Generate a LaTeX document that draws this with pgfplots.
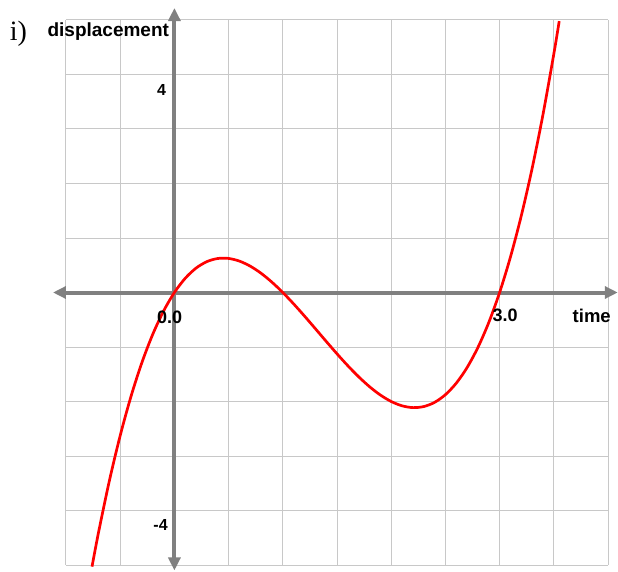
\documentclass[border=0pt]{standalone}
\usepackage{pgfplots}
\pgfplotsset{compat=1.18}
\usepackage{fontspec}
\setmainfont{Liberation Sans}
\newfontfamily\serif{Liberation Serif}
\usetikzlibrary{arrows.meta}
\definecolor{axgray}{HTML}{808080}
\definecolor{gridgray}{HTML}{C8C8C8}
\begin{document}
\begin{tikzpicture}
\useasboundingbox (0,0) rectangle (618pt,571pt);
\begin{axis}[at={(66pt,6pt)},anchor=south west,
 scale only axis,width=542pt,height=545pt,
 xmin=-1,xmax=4,ymin=-5,ymax=5,
 xtick={-1,-0.5,...,4},ytick={-5,-4,...,5},
 xticklabels={},yticklabels={},
 major tick length=0pt,
 grid=major,grid style={gridgray,line width=1pt},
 axis line style={draw=none},
 clip=false]
\draw[axgray,line width=4pt,{Triangle[length=13pt,width=12pt]}-{Triangle[length=13pt,width=12pt]}]
 (axis cs:-1.12,0) -- (axis cs:4.09,0);
\draw[axgray,line width=4pt,{Triangle[length=13pt,width=12pt]}-{Triangle[length=13pt,width=12pt]}]
 (axis cs:0,-5.1) -- (axis cs:0,5.22);
\addplot[red,line width=2.7pt,smooth] table {
x y
-0.76 -5.03
-0.7 -4.403
-0.6 -3.456
-0.5 -2.625
-0.4 -1.904
-0.3 -1.287
-0.2 -0.768
-0.1 -0.341
0.0 0.0
0.1 0.261
0.2 0.448
0.3 0.567
0.4 0.624
0.5 0.625
0.6 0.576
0.7 0.483
0.8 0.352
0.9 0.189
1.0 0.0
1.1 -0.209
1.2 -0.432
1.3 -0.663
1.4 -0.896
1.5 -1.125
1.6 -1.344
1.7 -1.547
1.8 -1.728
1.9 -1.881
2.0 -2.0
2.1 -2.079
2.2 -2.112
2.3 -2.093
2.4 -2.016
2.5 -1.875
2.6 -1.664
2.7 -1.377
2.8 -1.008
2.9 -0.551
3.0 0.0
3.1 0.651
3.2 1.408
3.3 2.277
3.4 3.264
3.5 4.375
3.55 4.979
};
\node[font=\fontsize{18}{20}\selectfont\bfseries] at (axis cs:-0.043,-0.45) {0.0};
\node[font=\fontsize{18}{20}\selectfont\bfseries] at (axis cs:3.05,-0.42) {3.0};
\node[font=\fontsize{18.5}{20}\selectfont\bfseries] at (axis cs:3.85,-0.42) {time};
\node[font=\fontsize{16}{18}\selectfont\bfseries,anchor=east,inner sep=0pt] at (axis cs:-0.075,3.72) {4};
\node[font=\fontsize{16}{18}\selectfont\bfseries,anchor=east,inner sep=0pt] at (axis cs:-0.06,-4.27) {-4};
\node[font=\fontsize{19}{21}\selectfont\bfseries] at (axis cs:-0.61,4.78) {displacement};
\node[font=\serif\fontsize{28}{30}\selectfont] at (axis cs:-1.44,4.74) {i)};
\end{axis}
\end{tikzpicture}
\end{document}
